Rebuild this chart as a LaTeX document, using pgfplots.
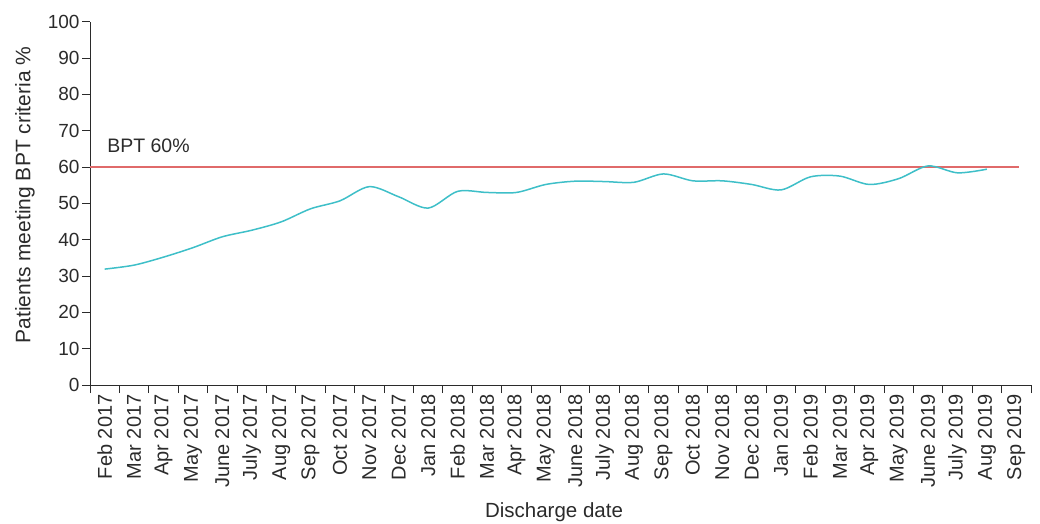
\documentclass[border=0pt]{standalone}
\usepackage{pgfplots}
\pgfplotsset{compat=1.18}
\usepackage{fontspec}
\setmainfont{Liberation Sans}
\definecolor{txt}{HTML}{2B2B2B}
\definecolor{lineteal}{HTML}{3EBFC8}
\definecolor{bptred}{HTML}{E06A6A}
\pgfplotstableread{
x y
0 31.9
1 33.0
2 35.2
3 37.8
4 40.8
5 42.6
6 44.9
7 48.5
8 50.7
9 54.6
10 51.8
11 48.7
12 53.3
13 53.0
14 53.0
15 55.2
16 56.1
17 56.0
18 55.8
19 58.1
20 56.2
21 56.2
22 55.2
23 53.7
24 57.3
25 57.5
26 55.2
27 56.8
28 60.3
29 58.4
30 59.4
}\bptdata
\begin{document}
\begin{tikzpicture}[x=1pt,y=1pt]
\path[use as bounding box] (0,0) rectangle (1040,523);
\begin{axis}[
  at={(90pt,138pt)}, anchor=south west,
  width=941pt, height=363.3pt, scale only axis,
  xmin=-0.5, xmax=31.5, ymin=0, ymax=100,
  clip=false,
  axis x line*=bottom, axis y line*=left,
  axis line style={txt, line width=0.9pt},
  tick style={txt, line width=0.9pt},
  tick align=outside,
  major tick length=8pt,
  ytick={0,10,...,100},
  yticklabel style={font=\fontsize{19}{19}\selectfont, text=txt, xshift=1pt},
  /pgf/number format/assume math mode=true,
  xtick={-0.5,0.5,...,31.5},
  xticklabel style={text opacity=0},
  extra x ticks={0,1,...,31},
  extra x tick labels={Feb 2017, Mar 2017, Apr 2017, May 2017, June 2017, July 2017, Aug 2017, Sep 2017, Oct 2017, Nov 2017, Dec 2017, Jan 2018, Feb 2018, Mar 2018, Apr 2018, May 2018, June 2018, July 2018, Aug 2018, Sep 2018, Oct 2018, Nov 2018, Dec 2018, Jan 2019, Feb 2019, Mar 2019, Apr 2019, May 2019, June 2019, July 2019, Aug 2019, Sep 2019},
  extra x tick style={major tick length=0pt,
    xticklabel style={text opacity=1, rotate=90, anchor=east, font=\fontsize{20}{20}\selectfont, text=txt, xshift=-6pt}},
]
\addplot[bptred, line width=2pt] coordinates {(-0.5,60) (31.1,60)};
\addplot[lineteal, line width=1.5pt, smooth, tension=0.5] table[x=x,y=y] {\bptdata};
\node[anchor=west, inner sep=0pt, text=txt, font=\fontsize{19.5}{19.5}\selectfont] at (axis cs:0.08,65.8) {BPT 60\%};
\end{axis}
\node[rotate=90, text=txt, font=\fontsize{21}{21}\selectfont] at (25,328) {Patients meeting BPT criteria \%};
\node[text=txt, font=\fontsize{20.5}{20.5}\selectfont] at (554,11) {Discharge date};
\end{tikzpicture}
\end{document}
